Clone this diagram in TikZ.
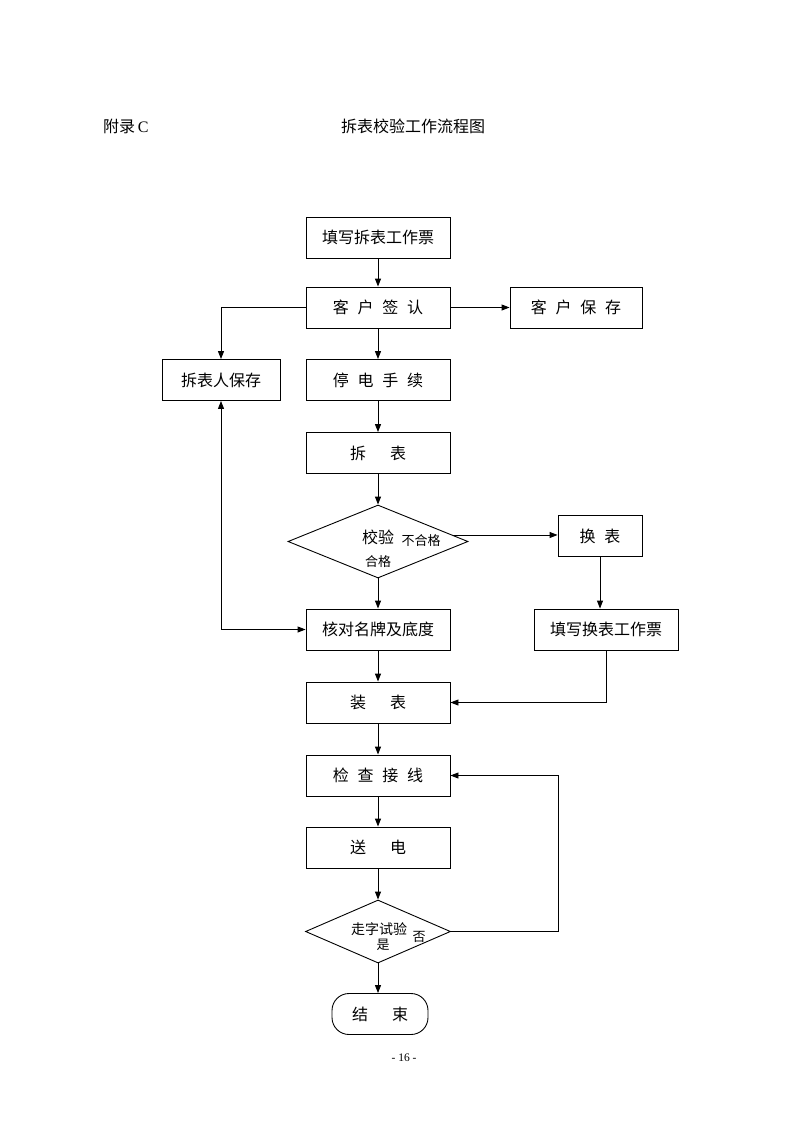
\documentclass[tikz,border=0pt]{standalone}
\usepackage{fontspec}
\setmainfont{Liberation Serif}
\newfontfamily\cjk{Noto Sans CJK SC}
\usetikzlibrary{shapes.geometric,arrows.meta}
\tikzset{
  stepbox/.style={draw, line width=0.9pt, minimum width=144pt, minimum height=41pt, inner sep=0pt, font=\cjk\fontsize{16}{16}\selectfont},
  decision/.style={draw, line width=0.9pt, diamond, inner sep=0pt},
  conn/.style={line width=0.9pt, -{Triangle[length=8pt,width=6pt]}},
  plainline/.style={line width=0.9pt},
  lbl/.style={inner sep=0pt, font=\cjk\fontsize{13}{13}\selectfont},
  biglbl/.style={inner sep=0pt, font=\cjk\fontsize{16}{16}\selectfont},
}
\newcommand{\gs}{\hspace{0.55em}}
\newcommand{\gw}{\hspace{1.5em}}
\begin{document}
\begin{tikzpicture}[x=1pt,y=-1pt]
\useasboundingbox (0,0) rectangle (793,1122);
% header
\node[anchor=west, inner sep=0pt, font=\fontsize{16}{16}\selectfont] (appx) at (103,126) {{\cjk 附录}\,C};
\node[anchor=west, inner sep=0pt, font=\cjk\fontsize{16}{16}\selectfont] (title) at (341,126) {拆表校验工作流程图};
\node[inner sep=0pt, font=\fontsize{11.5}{12}\selectfont] (page) at (404,1058) {- 16 -};

% nodes
\node[stepbox] (a) at (378,237.5) {填写拆表工作票};
\node[stepbox] (b) at (378,307.5) {客\gs 户\gs 签\gs 认};
\node[stepbox, minimum width=132pt] (c) at (576,307.5) {客\gs 户\gs 保\gs 存};
\node[stepbox, minimum width=118pt] (d) at (221,380) {拆表人保存};
\node[stepbox] (e) at (378,380) {停\gs 电\gs 手\gs 续};
\node[stepbox] (f) at (378,453) {拆\gw 表};
\node[decision, minimum width=180pt, minimum height=73pt] (g) at (378,541.5) {};
\node[stepbox, minimum width=84pt] (h) at (600,536) {换\gs 表};
\node[stepbox] (i) at (378,629.5) {核对名牌及底度};
\node[stepbox] (j) at (606,629.5) {填写换表工作票};
\node[stepbox] (k) at (378,702.5) {装\gw 表};
\node[stepbox] (l) at (378,775.5) {检\gs 查\gs 接\gs 线};
\node[stepbox] (m) at (378,847.5) {送\gw 电};
\node[decision, minimum width=145pt, minimum height=63pt] (n) at (378,931.5) {};
\node[stepbox, minimum width=96pt, rounded corners=17pt] (o) at (380,1014) {结\gw 束};

% diamond labels
\node[biglbl] (gt) at (378,537) {校验};
\node[lbl] (gn) at (421,541) {不合格};
\node[lbl] (gy) at (378,562) {合格};
\node[biglbl, font=\cjk\fontsize{14}{14}\selectfont] (nt) at (379,929) {走字试验};
\node[lbl] (ny) at (383,945) {是};
\node[lbl] (nn) at (419,937) {否};

% connectors
\draw[conn] (a) -- (b);
\draw[conn] (b) -- (c);
\draw[conn] (b.west) -| (d.north);
\draw[conn] (b) -- (e);
\draw[conn] (e) -- (f);
\draw[conn] (f) -- (g.north);
\draw[conn] (g.5) -- (g.5 -| h.west);
\draw[conn] (g.south) -- (i.north);
\draw[conn] (h) -- (h |- j.north);
\draw[conn, {Triangle[length=8pt,width=6pt]}-{Triangle[length=8pt,width=6pt]}] (d.south) |- (i.west);
\draw[conn] (i) -- (k);
\draw[conn] (j.south) |- (k.east);
\draw[conn] (k) -- (l);
\draw[conn] (l) -- (m);
\draw[conn] (m) -- (n.north);
\coordinate (r) at (558,931.5);
\draw[conn] (n.east) -- (r) |- (l.east);
\draw[conn] (n.south) -- (n.south |- o.north);
\end{tikzpicture}
\end{document}
